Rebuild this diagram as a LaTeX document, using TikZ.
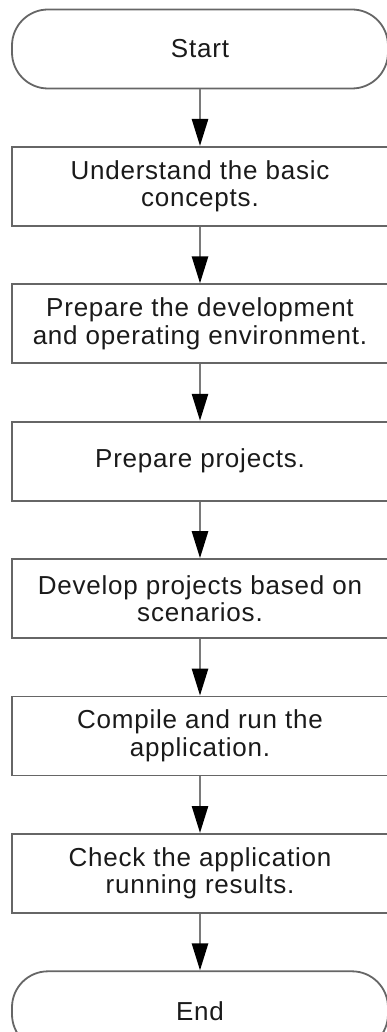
\documentclass[tikz,border=0pt]{standalone}
\usepackage{fontspec}
\setmainfont[LetterSpace=3]{Liberation Sans}
\usepackage{xcolor}
\usepackage{tikz}
\usetikzlibrary{arrows.meta,positioning}
\definecolor{edgegray}{HTML}{666666}
\definecolor{linegray}{HTML}{7A7A7A}
\definecolor{ink}{HTML}{1A1A1A}
\tikzset{
  stepbox/.style={draw=edgegray, line width=1.8pt, fill=white, align=center, text=ink,
    minimum width=376pt, minimum height=79pt, inner sep=0pt,
    font=\fontsize{26pt}{27.5pt}\selectfont},
  term/.style={stepbox, rounded corners=36pt},
  flow/.style={draw=linegray, line width=2.6pt,
    -{Triangle[length=27pt, width=16pt, color=black]}, shorten >=0pt},
}

\begin{document}
\begin{tikzpicture}[node distance=56.6pt]
  \useasboundingbox (0,0) rectangle (387pt,-1032pt);
  \node[term] (start) at (200pt,-49pt) {Start};
  \node[stepbox, below=of start] (concepts) {Understand the basic\\concepts.};
  \node[stepbox, below=of concepts] (env) {Prepare the development\\and operating environment.};
  \node[stepbox, below=of env] (proj) {Prepare projects.};
  \node[stepbox, below=of proj] (dev) {Develop projects based on\\scenarios.};
  \node[stepbox, below=of dev] (run) {Compile and run the\\application.};
  \node[stepbox, below=of run] (check) {Check the application\\running results.};
  \node[term, below=of check] (end) {End};
  \foreach \a/\b in {start/concepts, concepts/env, env/proj, proj/dev, dev/run, run/check, check/end}
    \draw[flow] (\a) -- (\b);
\end{tikzpicture}
\end{document}
